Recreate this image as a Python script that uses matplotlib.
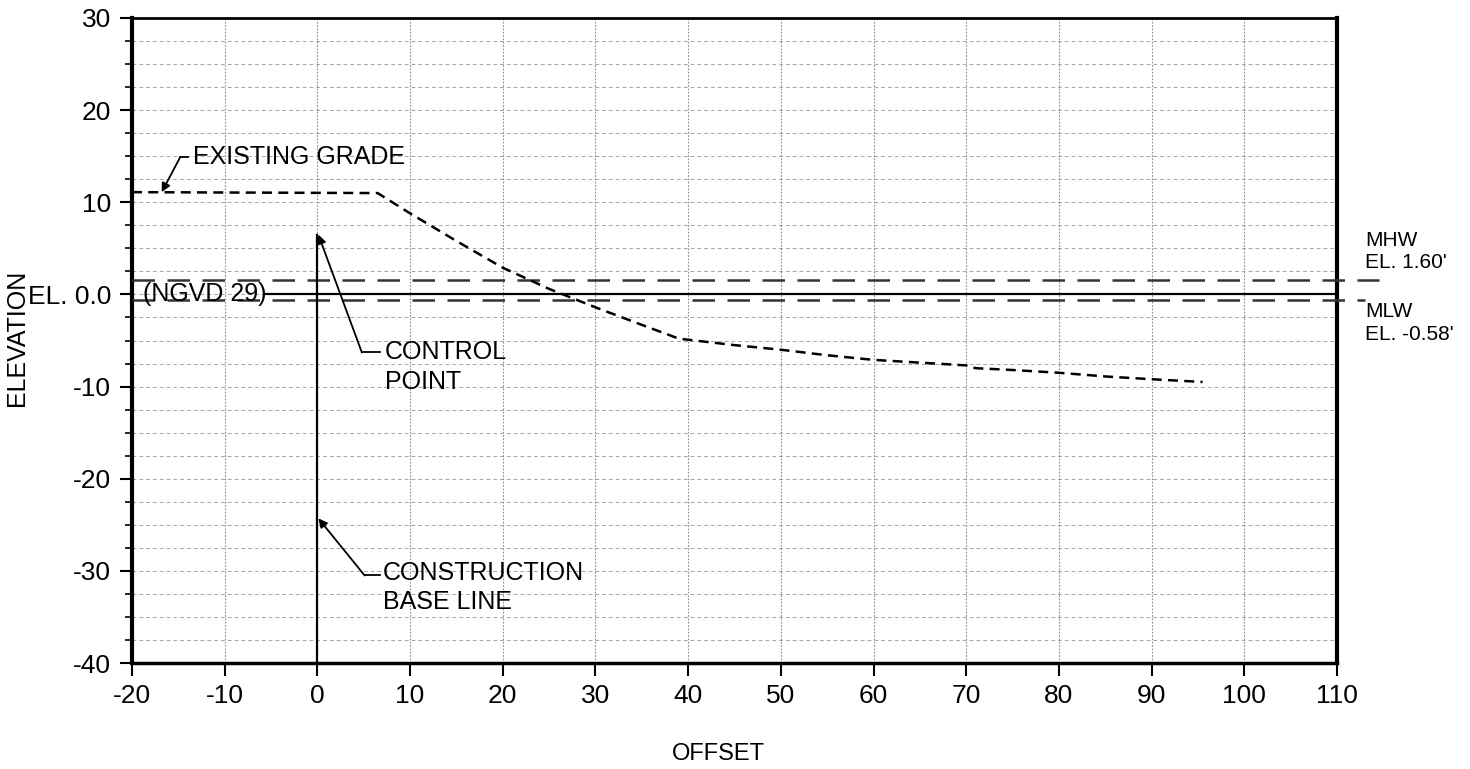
import numpy as np
import matplotlib.pyplot as plt
from matplotlib.ticker import MultipleLocator, FixedLocator, FixedFormatter

plt.rcParams['font.family'] = ['Liberation Sans', 'DejaVu Sans']

# perfil del terreno existente (offset, elevacion)
grade_x = [-20, 6.5, 10, 15, 20, 25, 30, 35, 39, 45, 50, 55, 60, 65, 70, 71, 75, 80, 85, 90, 95.5]
grade_y = [11.1, 11.0, 8.8, 5.8, 2.9, 0.6, -1.4, -3.3, -4.8, -5.5, -6.0, -6.6, -7.1, -7.4, -7.7, -8.0, -8.2, -8.5, -8.9, -9.2, -9.5]

mhw = 1.60
mlw = -0.58
y_ticks = [-40, -30, -20, -10, 0, 10, 20, 30]
y_labels = ['-40', '-30', '-20', '-10', 'EL. 0.0', '10', '20', '30']
x_ticks = list(range(-20, 111, 10))

fig = plt.figure(figsize=(14.7, 7.69), dpi=100)
ax = fig.add_axes([0.0898, 0.1378, 0.8197, 0.8388])
ax.set_xlim(-20, 110)
ax.set_ylim(-40, 30)

# rejilla
ax.yaxis.set_minor_locator(MultipleLocator(2.5))
for yv in np.arange(-37.5, 30, 2.5):
    ax.axhline(yv, color='#a5a5a5', lw=0.7, dashes=(4, 3), zorder=1)
for xv in x_ticks[1:-1]:
    ax.axvline(xv, color='#8a8a8a', lw=0.8, dashes=(1.5, 1.5), zorder=1)

# lineas de referencia
ax.plot([-5.8, 110], [0, 0], color='black', lw=1.6, zorder=3)
ax.plot([-20, 114.5], [mhw, mhw], color='#333333', lw=1.8, dashes=(9, 5), clip_on=False, zorder=3)
ax.plot([-20, 113], [mlw, mlw], color='#333333', lw=1.8, dashes=(9, 5), clip_on=False, zorder=3)
ax.plot([0, 0], [-40, 6.5], color='black', lw=1.6, zorder=3)

# terreno existente
ax.plot(grade_x, grade_y, color='black', lw=1.8, dashes=(4, 2.5), zorder=4)

txt = dict(fontsize=18, color='black', va='center')
ax.text(-18.8, 0, '(NGVD 29)', ha='left', **txt, zorder=5)

def leader(tx, ty, ex, ey, px, py):
    ax.plot([tx, ex], [ty, ey], color='black', lw=1.3, zorder=5)
    ax.annotate('', xy=(px, py), xytext=(ex, ey),
                arrowprops=dict(arrowstyle='-|>', color='black', lw=1.3,
                                mutation_scale=13, shrinkA=0, shrinkB=0), zorder=5)

leader(-14.0, 14.9, -14.8, 14.9, -16.8, 11.1)
ax.text(-13.4, 14.9, 'EXISTING GRADE', ha='left', **txt)

leader(6.8, -6.3, 4.8, -6.3, 0.1, 6.5)
ax.text(7.3, -6.3, 'CONTROL', ha='left', **txt)
ax.text(7.3, -9.5, 'POINT', ha='left', **txt)

leader(6.8, -30.5, 5.1, -30.5, 0.1, -24.3)
ax.text(7.1, -30.2, 'CONSTRUCTION', ha='left', **txt)
ax.text(7.1, -33.4, 'BASE LINE', ha='left', **txt)

side = dict(fontsize=15, color='black', ha='left', va='center', clip_on=False)
ax.text(113.0, 5.9, 'MHW', **side)
ax.text(113.0, 3.5, "EL. 1.60'", **side)
ax.text(113.0, -1.9, 'MLW', **side)
ax.text(113.0, -4.3, "EL. -0.58'", **side)

# ejes
ax.set_xticks(x_ticks)
ax.set_xticklabels([str(v) for v in x_ticks])
ax.yaxis.set_major_locator(FixedLocator(y_ticks))
ax.yaxis.set_major_formatter(FixedFormatter(y_labels))
ax.tick_params(axis='both', which='major', labelsize=19, length=9, width=1.5, direction='out', pad=6)
ax.tick_params(axis='y', which='minor', length=5, width=1.2, direction='out')
ax.tick_params(top=False, right=False)
for s, w in [('left', 3), ('bottom', 2.5), ('top', 2), ('right', 3)]:
    ax.spines[s].set_linewidth(w)

fig.text(0.0115, 0.56, 'ELEVATION', rotation=90, fontsize=18, ha='center', va='center')
fig.text(0.4885, 0.005, 'OFFSET', fontsize=17, ha='center', va='bottom')

fig.savefig('out.png', dpi=100)
